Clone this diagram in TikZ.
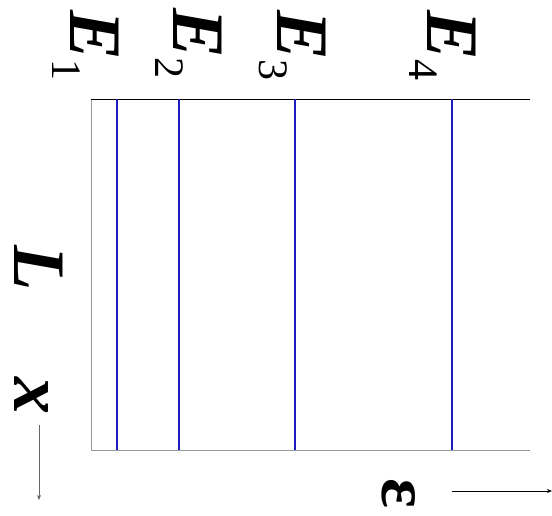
\documentclass[tikz,border=0pt]{standalone}
\usepackage{fontspec}
\setmainfont{Liberation Serif}[ItalicFont={Liberation Serif Italic}, BoldItalicFont={Liberation Serif Bold Italic}]
\usetikzlibrary{arrows.meta}

\begin{document}
\begin{tikzpicture}[
        x=1pt, y=-1pt,
        >={Stealth[length=5pt, width=4pt]},
        lbl/.style={rotate=-90, anchor=base west, inner sep=0pt, text depth=0pt, font=\fontsize{74}{74}\selectfont\bfseries\itshape},
        level/.style={draw={rgb,255:red,30;green,30;blue,190}, line width=1.6pt},
        frame/.style={draw=gray!80, line width=0.9pt},
        axis/.style={->, line width=0.7pt}
    ]
        \useasboundingbox (0,0) rectangle (552,515);
        % frame of the box
        \draw[frame] (530,450) -- (91,450) -- (91,99);
        \draw[line width=0.9pt] (91,99) -- (530,99);
        % energy levels
        \draw[level] (117,99) -- (117,450);
        \draw[level] (179,99) -- (179,450);
        \draw[level] (295,99) -- (295,450);
        \draw[level] (452,99) -- (452,450);
        % labels
        \node[lbl] (e1) at (70,10) {E\raisebox{-18pt}{\fontsize{42}{42}\selectfont\mdseries\upshape 1}};
        \node[lbl] (e2) at (173,8) {E\raisebox{-18pt}{\fontsize{42}{42}\selectfont\mdseries\upshape 2}};
        \node[lbl] (e3) at (277,10) {E\raisebox{-18pt}{\fontsize{42}{42}\selectfont\mdseries\upshape 3}};
        \node[lbl] (e4) at (427,10) {E\raisebox{-18pt}{\fontsize{42}{42}\selectfont\mdseries\upshape 4}};
        \node[lbl] (len) at (14,245) {L};
        \node[lbl] (xlbl) at (14,377) {x};
        \node[lbl, font=\fontsize{70}{70}\selectfont\bfseries] (eps) at (382,478) {ε};
        % axes
        \coordinate (xtail) at (39,425);
        \coordinate (xhead) at (39,500);
        \coordinate (etail) at (452,491);
        \coordinate (ehead) at (552,491);
        \draw[axis, gray!80!black] (xtail) -- (xhead);
        \draw[axis] (etail) -- (ehead);
    \end{tikzpicture}
\end{document}
